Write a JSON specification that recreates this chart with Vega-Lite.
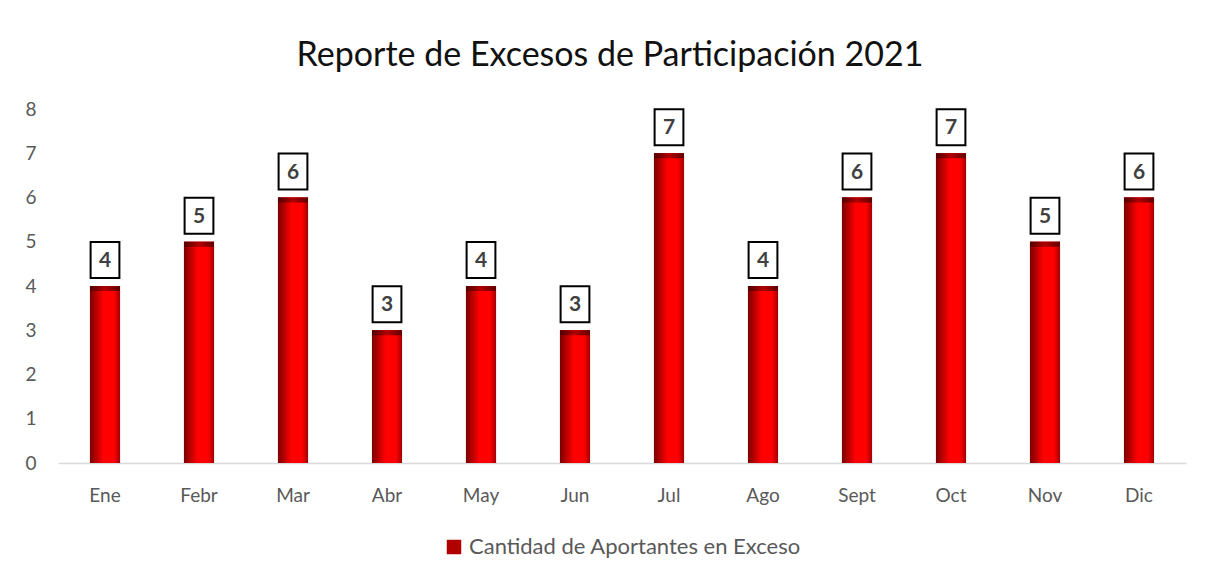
{
  "$schema": "https://vega.github.io/schema/vega-lite/v6.json",
  "width": 1128,
  "height": 354,
  "autosize": "none",
  "padding": {"left": 58, "top": 109, "right": 20, "bottom": 117},
  "background": "white",
  "config": {"view": {"stroke": null}, "font": "Lato", "legend": {"layout": {"bottom": {"anchor": "middle"}}}},
  "title": {"text": "Reporte de Excesos de Participación 2021", "fontSize": 34, "font": "Lato", "fontWeight": "normal", "color": "#111111", "anchor": "middle", "frame": "group", "dx": -12, "offset": 27},
  "data": {"values": [
    {"mes": "Ene", "v": 4}, {"mes": "Febr", "v": 5}, {"mes": "Mar", "v": 6}, {"mes": "Abr", "v": 3},
    {"mes": "May", "v": 4}, {"mes": "Jun", "v": 3}, {"mes": "Jul", "v": 7}, {"mes": "Ago", "v": 4},
    {"mes": "Sept", "v": 6}, {"mes": "Oct", "v": 7}, {"mes": "Nov", "v": 5}, {"mes": "Dic", "v": 6}
  ]},
  "encoding": {
    "x": {"field": "mes", "type": "nominal", "sort": null, "scale": {"paddingInner": 0, "paddingOuter": 0},
      "axis": {"title": null, "labelAngle": 0, "labelFontSize": 19, "labelColor": "#595959", "labelPadding": 23, "ticks": false, "domainColor": "#D9D9D9", "domainWidth": 1.5, "grid": false, "labelFont": "Lato"}},
    "y": {"field": "v", "type": "quantitative", "scale": {"domain": [0, 8]},
      "axis": {"title": null, "values": [0,1,2,3,4,5,6,7,8], "labelFontSize": 19, "labelColor": "#595959", "labelPadding": 22, "ticks": false, "domain": false, "grid": false, "labelFont": "Lato"}}
  },
  "layer": [
    {
      "mark": {"type": "bar", "width": {"band": 0.32}},
      "encoding": {
        "color": {"datum": "Cantidad de Aportantes en Exceso", "type": "nominal",
          "scale": {"range": ["#b00000"]},
          "legend": {"title": null, "orient": "bottom", "offset": 31, "symbolType": "square", "symbolSize": 210, "labelFontSize": 22, "labelColor": "#595959", "labelFont": "Lato", "labelLimit": 600, "symbolStrokeWidth": 0, "labelOffset": 4}
        }
      }
    },
    {
      "mark": {"type": "bar", "width": {"band": 0.32},
        "color": {"gradient": "linear", "x1": 0, "y1": 0, "x2": 1, "y2": 0, "stops": [
            {"offset": 0, "color": "#7a0000"}, {"offset": 0.45, "color": "#ff0000"}, {"offset": 0.8, "color": "#ff0000"}, {"offset": 1, "color": "#a00000"}]}}
    },
    {
      "mark": {"type": "tick", "orient": "horizontal", "size": 30, "thickness": 5, "yOffset": 2.5,
        "color": {"gradient": "linear", "x1": 0, "y1": 0, "x2": 1, "y2": 0, "stops": [
          {"offset": 0, "color": "#500000"}, {"offset": 0.5, "color": "#b00000"}, {"offset": 1, "color": "#600000"}]}, "opacity": 1}
    },
    {
      "mark": {"type": "point", "shape": "M-0.8,-1L0.8,-1L0.8,1L-0.8,1Z", "size": 1296, "filled": true, "fill": "white", "stroke": "black", "strokeWidth": 2, "opacity": 1, "yOffset": -26}
    },
    {
      "mark": {"type": "text", "fontSize": 21, "fontWeight": "bold", "color": "#404040", "baseline": "middle", "align": "center", "yOffset": -25, "font": "Lato"},
      "encoding": {"text": {"field": "v", "type": "quantitative"}}
    }
  ]
}
